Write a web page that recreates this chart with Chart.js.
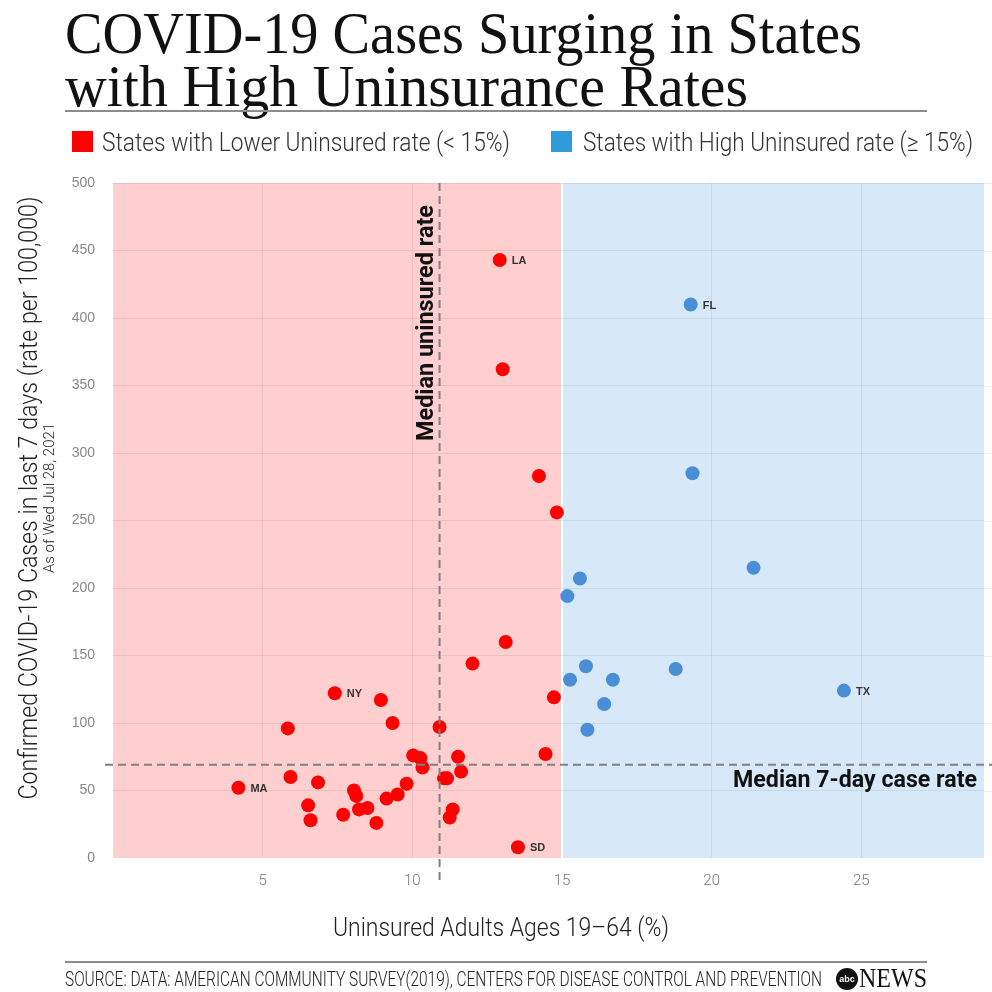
<!DOCTYPE html>
<html>
<head>
<meta charset="utf-8">
<script src="https://cdn.jsdelivr.net/npm/chart.js@4.4.1/dist/chart.umd.min.js"></script>
<style>
  html, body { margin: 0; padding: 0; background: #fff; }
  #page { position: relative; width: 992px; height: 992px; overflow: hidden; }
  #chart { position: absolute; left: 0; top: 0; }
  .txt { position: absolute; white-space: nowrap; transform-origin: 0 0; }
  .title { font-family: "Liberation Serif", serif; font-size: 60px; line-height: 60px; color: #111; left: 65px; }
  .legend { font-family: Roboto, sans-serif; font-weight: 300; font-size: 25px; line-height: 25px; color: #333; top: 130px; }
  .swatch { position: absolute; top: 131px; width: 21px; height: 21px; }
  .rule { position: absolute; left: 65px; width: 862px; height: 1.5px; background: #8c8c8c; }
</style>
</head>
<body>
<div id="page">
  <canvas id="chart" width="992" height="992"></canvas>

  <div class="txt title" id="t1" style="top:3px">COVID-19 Cases Surging in States</div>
  <div class="txt title" id="t2" style="top:56px">with High Uninsurance Rates</div>
  <div class="rule" style="top:110px"></div>

  <div class="swatch" style="left:72px;background:#ff0000"></div>
  <div class="txt legend" id="lg1" style="left:102px">States with Lower Uninsured rate (&lt; 15%)</div>
  <div class="swatch" style="left:551px;background:#2f9bdc"></div>
  <div class="txt legend" id="lg2" style="left:583px">States with High Uninsured rate (≥ 15%)</div>

  <div class="rule" style="top:961px"></div>
  <div class="txt" id="src" style="left:65px;top:969px;font-family:Roboto,sans-serif;font-weight:300;font-size:20px;line-height:20px;color:#222">SOURCE: DATA: AMERICAN COMMUNITY SURVEY(2019), CENTERS FOR DISEASE CONTROL AND PREVENTION</div>
  <div style="position:absolute;left:836px;top:968px;width:22px;height:22px;border-radius:50%;background:#111;color:#fff;font:700 9px 'Liberation Sans',sans-serif;line-height:22px;text-align:center">abc</div>
  <div class="txt" id="news" style="left:859px;top:965px;font-family:'Liberation Serif',serif;font-size:27px;line-height:27px;color:#111">NEWS</div>
</div>

<script>
// lower uninsured rate states (< 15%)
const uninsuredLow = [12.92, 13.02, 14.23, 14.83, 13.12, 12.01, 14.73, 7.41, 8.95, 9.34, 5.84, 10.91, 14.45,
  10.03, 10.27, 10.34, 11.53, 11.63, 5.93, 6.85, 4.19, 8.05, 8.13, 9.81, 9.51, 9.14, 11.06, 11.16,
  6.52, 6.60, 7.69, 8.22, 8.50, 8.80, 11.35, 11.25, 13.53];
const casesLow = [443, 362, 283, 256, 160, 144, 119, 122, 117, 100, 96, 97, 77,
  76, 74, 67, 75, 64, 60, 56, 52, 50, 46, 55, 47, 44, 59, 59,
  39, 28, 32, 36, 37, 26, 36, 30, 8];
const labelsLow = ['LA', '', '', '', '', '', '', 'NY', '', '', '', '', '',
  '', '', '', '', '', '', '', 'MA', '', '', '', '', '', '', '',
  '', '', '', '', '', '', '', '', 'SD'];

// high uninsured rate states (>= 15%)
const uninsuredHigh = [19.30, 19.36, 21.40, 15.60, 15.18, 15.80, 18.80, 15.27, 16.70, 16.41, 15.85, 24.42];
const casesHigh = [410, 285, 215, 207, 194, 142, 140, 132, 132, 114, 95, 124];
const labelsHigh = ['FL', '', '', '', '', '', '', '', '', '', '', 'TX'];

const xTicks = [5, 10, 15, 20, 25];
const MEDIAN_UNINSURED = 10.91;
const MEDIAN_CASES = 69;
const THRESHOLD = 15;

function toPoints(xs, ys) {
  return xs.map((x, i) => ({ x: x, y: ys[i] }));
}

// squeeze html text to a given width
function fitWidth(id, w) {
  const el = document.getElementById(id);
  const r = el.getBoundingClientRect().width;
  el.style.transform = 'scaleX(' + (w / r) + ')';
}

// draw text horizontally scaled to a target width
function fitText(ctx, text, font, width, align) {
  ctx.font = font;
  const w = ctx.measureText(text).width;
  const s = width ? width / w : 1;
  ctx.save();
  ctx.scale(s, 1);
  ctx.textAlign = align;
  ctx.fillText(text, 0, 0);
  ctx.restore();
}

const bandsPlugin = {
  id: 'bands',
  beforeDraw(chart) {
    const { ctx, chartArea, scales } = chart;
    const xs = scales.x.getPixelForValue(THRESHOLD);
    ctx.save();
    ctx.fillStyle = '#ffcfcf';
    ctx.fillRect(chartArea.left, chartArea.top, xs - chartArea.left, chartArea.bottom - chartArea.top);
    ctx.fillStyle = '#d7e9f8';
    ctx.fillRect(xs, chartArea.top, chartArea.right - xs, chartArea.bottom - chartArea.top);
    // grid lines carry on past the plot to the edge
    ctx.strokeStyle = 'rgba(0,0,0,0.07)';
    ctx.lineWidth = 1;
    scales.y.ticks.forEach(t => {
      const py = Math.round(scales.y.getPixelForValue(t.value)) + 0.5;
      if (t.value === 0) return;
      ctx.beginPath();
      ctx.moveTo(chartArea.right, py);
      ctx.lineTo(chart.width, py);
      ctx.stroke();
    });
    ctx.restore();
  }
};

const overlayPlugin = {
  id: 'overlay',
  afterDatasetsDraw(chart) {
    const { ctx, chartArea, scales } = chart;
    const mx = scales.x.getPixelForValue(MEDIAN_UNINSURED);
    const my = scales.y.getPixelForValue(MEDIAN_CASES);

    ctx.save();
    ctx.strokeStyle = '#808080';
    ctx.lineWidth = 2;
    ctx.setLineDash([8, 5]);
    ctx.beginPath();
    ctx.moveTo(mx, chartArea.top);
    ctx.lineTo(mx, chartArea.bottom + 24);
    ctx.stroke();
    ctx.beginPath();
    ctx.moveTo(chartArea.left - 8, my);
    ctx.lineTo(chart.width, my);
    ctx.stroke();
    ctx.setLineDash([]);

    // state labels
    ctx.fillStyle = '#333';
    ctx.font = '700 11px "Liberation Sans", sans-serif';
    ctx.textAlign = 'left';
    ctx.textBaseline = 'middle';
    chart.data.datasets.forEach((ds, di) => {
      const meta = chart.getDatasetMeta(di);
      ds.stateLabels.forEach((lab, i) => {
        if (!lab) return;
        const el = meta.data[i];
        ctx.fillText(lab, el.x + 12, el.y + 1);
      });
    });

    // median annotations
    ctx.fillStyle = '#111';
    ctx.textBaseline = 'alphabetic';
    ctx.save();
    ctx.translate(mx - 7, chartArea.top + 22);
    ctx.rotate(-Math.PI / 2);
    fitText(ctx, 'Median uninsured rate', '700 23px Roboto, sans-serif', 236, 'right');
    ctx.restore();

    ctx.save();
    ctx.translate(chartArea.right - 7, my + 22);
    fitText(ctx, 'Median 7-day case rate', '700 23px Roboto, sans-serif', 244, 'right');
    ctx.restore();

    // axis titles
    ctx.fillStyle = '#222';
    ctx.save();
    ctx.translate(37, 498);
    ctx.rotate(-Math.PI / 2);
    fitText(ctx, 'Confirmed COVID-19 Cases in last 7 days (rate per 100,000)', '300 25px Roboto, sans-serif', 603, 'center');
    ctx.restore();

    ctx.save();
    ctx.translate(54, 498);
    ctx.rotate(-Math.PI / 2);
    fitText(ctx, 'As of Wed Jul 28, 2021', '300 14px Roboto, sans-serif', 150, 'center');
    ctx.restore();

    ctx.save();
    ctx.translate(501, 936);
    fitText(ctx, 'Uninsured Adults Ages 19\u201364 (%)', '300 26px Roboto, sans-serif', 336, 'center');
    ctx.restore();

    ctx.restore();
  }
};

const chart = new Chart(document.getElementById('chart'), {
  type: 'scatter',
  data: {
    datasets: [
      {
        label: 'States with Lower Uninsured rate (< 15%)',
        data: toPoints(uninsuredLow, casesLow),
        stateLabels: labelsLow,
        backgroundColor: '#ff0000',
        borderWidth: 0,
        pointRadius: 7
      },
      {
        label: 'States with High Uninsured rate (\u2265 15%)',
        data: toPoints(uninsuredHigh, casesHigh),
        stateLabels: labelsHigh,
        backgroundColor: '#4a8fd6',
        borderWidth: 0,
        pointRadius: 7
      }
    ]
  },
  options: {
    responsive: false,
    animation: false,
    events: [],
    layout: { padding: { top: 183, left: 0, right: 8, bottom: 0 } },
    plugins: { legend: { display: false }, tooltip: { enabled: false } },
    scales: {
      x: {
        min: 0,
        max: 29.1,
        afterFit(scale) { scale.height = 134; },
        afterBuildTicks(scale) { scale.ticks = xTicks.map(v => ({ value: v })); },
        border: { display: false },
        grid: {
          drawTicks: false,
          color: ctx => ctx.tick && ctx.tick.value === THRESHOLD ? '#ffffff' : 'rgba(0,0,0,0.07)',
          lineWidth: ctx => ctx.tick && ctx.tick.value === THRESHOLD ? 2 : 1
        },
        ticks: {
          padding: 14,
          color: '#777',
          font: { family: 'Roboto', weight: '300', size: 15 }
        }
      },
      y: {
        min: 0,
        max: 500,
        afterFit(scale) { scale.width = 113; },
        border: { display: false },
        grid: {
          drawTicks: false,
          color: ctx => ctx.tick && (ctx.tick.value === 0) ? 'rgba(0,0,0,0)' : 'rgba(0,0,0,0.07)'
        },
        ticks: {
          stepSize: 50,
          padding: 18,
          color: '#888',
          font: { family: 'Liberation Sans', size: 14 }
        }
      }
    }
  },
  plugins: [bandsPlugin, overlayPlugin]
});

fitWidth('t1', 797);
fitWidth('t2', 683);
fitWidth('lg1', 408);
fitWidth('lg2', 390);
fitWidth('src', 757);
fitWidth('news', 68);
</script>
</body>
</html>
